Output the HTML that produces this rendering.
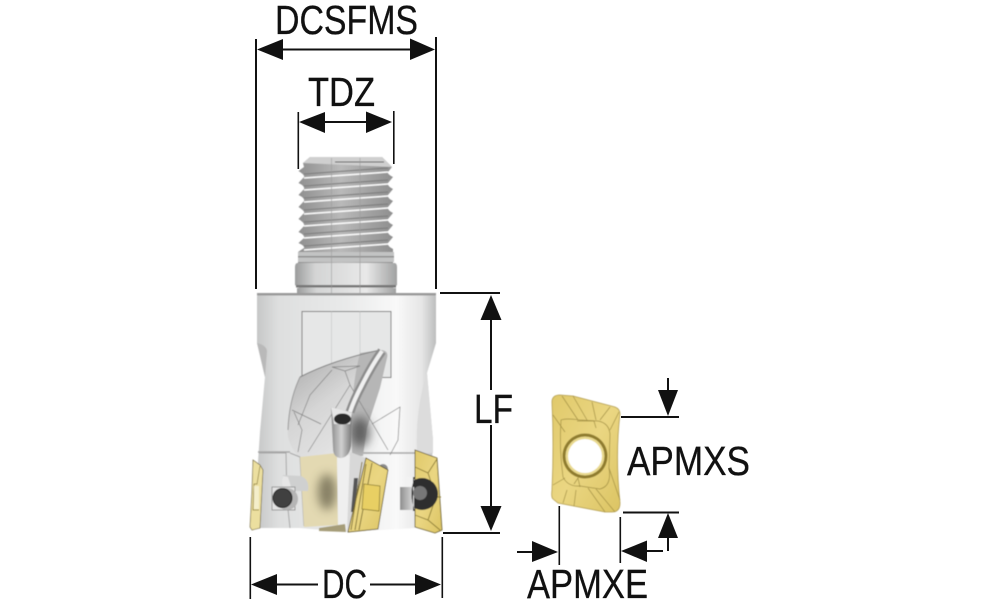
<!DOCTYPE html>
<html><head><meta charset="utf-8">
<style>html,body{margin:0;padding:0;background:#fff}svg{display:block}text{font-family:"Liberation Sans",sans-serif;font-size:41px;fill:#111;stroke:#111;stroke-width:.3}</style>
</head><body>
<svg width="1000" height="611" viewBox="0 0 1000 611" xmlns="http://www.w3.org/2000/svg">
<defs>
<filter id="soft" x="-5%" y="-5%" width="110%" height="110%"><feGaussianBlur stdDeviation=".45"/></filter>
<filter id="soft2" x="-60%" y="-60%" width="220%" height="220%"><feGaussianBlur stdDeviation="5"/></filter>
<linearGradient id="body" x1="0" x2="1" y1="0" y2="0"><stop offset="0" stop-color="#c6c7c7"/><stop offset=".12" stop-color="#dedfdf"/><stop offset=".5" stop-color="#e9eaea"/><stop offset=".78" stop-color="#f9f9f9"/><stop offset=".92" stop-color="#e6e6e6"/><stop offset="1" stop-color="#bcbdbd"/></linearGradient>
<linearGradient id="collar" x1="0" x2="1" y1="0" y2="0"><stop offset="0" stop-color="#9b9c9c"/><stop offset=".2" stop-color="#d4d5d5"/><stop offset=".7" stop-color="#e8e8e8"/><stop offset="1" stop-color="#a0a1a1"/></linearGradient>
<linearGradient id="thread" x1="0" x2="1" y1="0" y2="0"><stop offset="0" stop-color="#8f8f8f"/><stop offset=".45" stop-color="#b9b9b9"/><stop offset="1" stop-color="#8f8f8f"/></linearGradient>
<linearGradient id="flute" x1="0" x2=".7" y1="0" y2="1"><stop offset="0" stop-color="#a4a4a4"/><stop offset=".5" stop-color="#d6d6d6"/><stop offset="1" stop-color="#e8e8e8"/></linearGradient>
<linearGradient id="chan" x1="0" x2="1" y1="0" y2="0"><stop offset="0" stop-color="#8c8c8c"/><stop offset=".5" stop-color="#d0d0d0"/><stop offset="1" stop-color="#777"/></linearGradient>
<linearGradient id="gold" x1="0" x2="1" y1="0" y2="1"><stop offset="0" stop-color="#e0c96a"/><stop offset=".5" stop-color="#ead682"/><stop offset="1" stop-color="#dcc463"/></linearGradient>
<linearGradient id="cyl" x1="0" x2="1" y1="0" y2="0"><stop offset="0" stop-color="#8e8e8e"/><stop offset="1" stop-color="#dedede"/></linearGradient>
</defs>

<g filter="url(#soft)">
<!-- thread -->
<path d="M303 163 L310 157 L382 157 L392 167 L388 172 Q387 174 393 177 L388 183 Q387 186 393 189 L388 195 Q387 198 393 201 L388 207 Q387 210 393 213 L388 219 Q387 222 393 225 L388 231 Q387 234 393 237 L388 243 Q387 246 393 249 L393 263 L298 263 L298 252 L304 248 Q305 246 298.500 243 L304 238 Q305 235 298.500 232 L304 226 Q305 223 298.500 219 L304 213 Q305 211 298.500 207 L304 201 Q305 198 298.500 195 L304 189 Q305 186 298.500 183 L304 177 Q305 175 298.500 171 L304 167Z" fill="url(#thread)"/>
<path d="M310 157 L382 157 L392 167 L303 163Z" fill="#cfcfcf"/>
<path d="M335 162 L384 162" stroke="#555" stroke-width="1"/>
<g stroke="#fbfbfb" stroke-width="1.500" fill="none">
<path d="M304 178 L388 172"/><path d="M304 190 L388 184"/><path d="M304 202 L388 196"/><path d="M304 214 L388 208"/><path d="M304 226 L388 220"/><path d="M304 238 L388 232"/><path d="M304 250 L388 244"/>
</g>
<g stroke="#7c7c7c" stroke-width="1.100" fill="none">
<path d="M304 174 L388 168"/><path d="M304 186 L388 180"/><path d="M304 198 L388 192"/><path d="M304 210 L388 204"/><path d="M304 222 L388 216"/><path d="M304 234 L388 228"/><path d="M304 246 L388 240"/>
</g>
<!-- collar -->
<path d="M298 252 L394 252 L394 262 L298 262Z" fill="#c2c3c3"/>
<rect x="298" y="256" width="96" height="1.500" fill="#8f8f8f"/>
<path d="M297 263 L395 263 Q397 264 397 267 L397 285 L393 288 L299 288 L295 285 L295 267 Q295 264 297 263Z" fill="url(#collar)"/>
<rect x="296" y="285" width="100" height="2.500" fill="#777"/>
<rect x="297" y="288" width="99" height="5" fill="url(#collar)"/>
<path d="M331.500 158 V311 M360 158 V311" stroke="#9c9c9c" stroke-width=".6"/>

<!-- body -->
<path d="M257 296 L260 293 L433 293 L436 296 L436 343 L427 373 L433 440 L432 462 L433 527 Q400 529 345 532 L300 528 L260 528 L258 462 L260 432 L265 377 L257 343Z" fill="url(#body)"/>
<rect x="257" y="293" width="179" height="2.500" fill="#9a9a9a"/>
<path d="M257 343 Q266 345 267 351 L265 377Z" fill="#b9b9b9"/>
<path d="M427 373 L433 440 L433 453 L417 453 Q415 410 427 373Z" fill="#dcdcdc"/>
<rect x="302" y="311.500" width="89" height="66" fill="#e6e7e7" stroke="#7b7b7b" stroke-width="1"/>
<path d="M331.500 311 V380 M360 311 V380" stroke="#bbb" stroke-width=".5"/>
<!-- horizontal band -->
<path d="M258 452 L290 452 M362 453 L418 453" stroke="#a6a6a6" stroke-width="1.500" fill="none"/>

<!-- flute -->
<path d="M300 377 Q333 360 380 350 Q389 350 387 358 L380 388 L367 428 L363 456 L345 458 L300 458 L297 455 Q286 440 288 430 Q289 400 300 377Z" fill="url(#flute)"/>
<path d="M360 353 L380 350 Q389 350 387 358 L380 388 L367 428 L363 456 L352 456 L352 412 Q353 380 360 353Z" fill="#b6b6b6"/>
<ellipse cx="360" cy="432" rx="10" ry="15" fill="#444" opacity=".75" filter="url(#soft2)"/>
<g stroke="#808080" stroke-width=".7" fill="none">
<path d="M332 367 L360 366 L345 371 L332 367"/><path d="M345 371 L350 385 L308 452"/><path d="M332 370 L310 395 L298 425"/><path d="M292 410 L321 424"/><path d="M350 385 L388 450"/><path d="M372 424 L400 407 L398 440 L390 455"/><path d="M294 412 L302 430 L298 452"/>
</g>
<path d="M300 377 Q333 360 380 350" fill="none" stroke="#838383" stroke-width="1"/>
<path d="M288 430 Q289 400 300 377" fill="none" stroke="#999" stroke-width="1"/>
<!-- rib -->
<path d="M382 351 Q372 365 362 385 Q354 400 350 412" fill="none" stroke="#8d8d8d" stroke-width="9"/>
<path d="M382 351 Q372 365 362 385 Q354 400 350 412" fill="none" stroke="#f0f0f0" stroke-width="4"/>
<!-- lower left details -->
<path d="M259 453 L286 453 L287 500 L290 528" fill="none" stroke="#a6a6a6" stroke-width="1"/>
<path d="M290 453 L300 457 L304 526" fill="none" stroke="#a6a6a6" stroke-width="1"/>
<path d="M300 457 L337 453 L338 525 L304 527Z" fill="#e3d9b2"/>
<ellipse cx="327" cy="492" rx="9" ry="18" fill="#6d6750" opacity=".8" filter="url(#soft2)"/>
<path d="M337 453 L338 525 L347 532 L352 510 L352 456Z" fill="#efefef"/>
<!-- channel -->
<path d="M331 407 L352 413 L351 446 Q349 458 340 458 Q333 457 333 448Z" fill="url(#chan)"/>
<path d="M331 407 L352 413 L350 424 L334 424Z" fill="#e6e6e6"/>
<ellipse cx="342.500" cy="419" rx="8.500" ry="5.500" fill="#2c2c2c"/>
<path d="M319 528 L345 524 L346 532 L319 531Z" fill="#a59c78"/>
<path d="M283 475 L301 476 Q310 480 308 491 L288 491 Q281 491 283 475Z" fill="#cfd0d0"/>
<path d="M283 476 Q281 484 284 490 L292 490 L288 477Z" fill="#e6e6e6"/>
<rect x="272" y="487" width="23" height="23" fill="#e2e2e2" stroke="#888" stroke-width=".8"/>
<circle cx="287" cy="499" r="11" fill="#b5b5b5"/>
<circle cx="282.500" cy="498" r="9.500" fill="#414141" stroke="#222" stroke-width="1"/>

<!-- left insert -->
<path d="M253 460 L260 465 L263 470 L260 528 L252 530 L250 527 L252 490Z" fill="#ecdf9f" stroke="#5d5128" stroke-width=".6"/>
<path d="M260 466 L257 484 L254 484 L253 510 L259 510" fill="none" stroke="#8b7c3a" stroke-width=".7"/>
<rect x="254" y="486" width="5" height="23" fill="#f4eeca"/>

<!-- middle insert -->
<path d="M350 452 L366 458 L352 530 L347 532Z" fill="#d8d8d8"/>
<path d="M354 478 L358 478 L355 512 L351 512Z" fill="#555"/>
<circle cx="383" cy="469" r="5" fill="#8a8a8a"/>
<path d="M366 458 L388 470 L378 529 L348 532Z" fill="url(#gold)" stroke="#5d5128" stroke-width=".8"/>
<path d="M362 462 L351 530 M366 464 L355 530 M372 463 L359 530" stroke="#7b6d30" stroke-width=".9"/>
<path d="M364 484 L380 486 L379 511 L362 509Z" fill="#e8cf63" stroke="#8d7d32" stroke-width=".8"/>

<!-- right side -->
<path d="M400 487 L414 489 L414 510 L400 510Z" fill="url(#cyl)"/>
<path d="M415 450 L437 458 L442 530 L435 533 L415 527Z" fill="url(#gold)" stroke="#5d5128" stroke-width=".8"/>
<path d="M415 467 L428 473 L436 497 L428 520 L415 515 M428 473 L437 459 M428 520 L440 530 M436 497 L441 497" fill="none" stroke="#8c7c33" stroke-width=".9"/>
<circle cx="422" cy="494" r="16" fill="#2e2e2e"/>
<path d="M413 477 H406 V510 H413Z" fill="#f2f2f2"/>
<rect x="400" y="487" width="14" height="23" fill="url(#cyl)"/>
<circle cx="420" cy="493" r="7" fill="#777"/>
<path d="M415 477 Q408 494 415 511 L413 511 L413 477Z" fill="#1e1e1e"/>

<!-- carbide insert -->
<path d="M552 402 Q552 395 560 395 L573 396 L615 407 Q620 409 620 414 Q615 455 620 503 Q620 512 612 512 L605 512 L558 503 L553 499 Q551 497 552 490 Q554 445 552 402Z" fill="url(#gold)" stroke="#b29c4e" stroke-width=".8"/>
<g fill="none" stroke="#a18e41" stroke-width=".7">
<path d="M561 420 Q566 418 580 420 L598 421 Q609 423 610 434 L609 468 Q612 486 600 489 L580 486 Q568 487 563 477 Q559 448 561 420Z"/>
<path d="M553 415 L565 432 M562 396 L578 420 M573 396 L587 420 M592 402 L596 420 M610 407 L600 420"/>
<path d="M553 485 L565 478 M567 490 L563 503 M576 490 L574 506 M588 488 L605 512 M596 489 L615 512 M609 468 L620 500 M610 430 L619 412"/>
<path d="M577 421 L594 421 L596 428 M574 484 L578 478 L580 487"/>
</g>
<circle cx="585" cy="456" r="22.500" fill="#8f7b2d"/>
<circle cx="585" cy="456" r="19.500" fill="#e9d98d"/>
<circle cx="585" cy="456" r="17" fill="#fff"/>
</g>

<!-- dimensions -->
<g fill="#111" stroke="none">
<rect x="255" y="39" width="2" height="250"/><rect x="435" y="37" width="2" height="252"/>
<rect x="283" y="48.500" width="127" height="2"/>
<path d="M257 49.500 L283 39 L283 60Z"/><path d="M435 49.500 L410 38.500 L410 60Z"/>
<rect x="297.500" y="112" width="1.600" height="57"/><rect x="393" y="111" width="1.600" height="53"/>
<rect x="325" y="121" width="41" height="2"/>
<path d="M299 122 L325 112 L325 133Z"/><path d="M392 122 L366 111.500 L366 133Z"/>
<rect x="440" y="292" width="60" height="2"/><rect x="443" y="532" width="57" height="2"/>
<rect x="490" y="320" width="2" height="70"/><rect x="490" y="425" width="2" height="81"/>
<path d="M491 295 L480.500 320 L501.500 320Z"/><path d="M491 531 L480.500 506 L501.500 506Z"/>
<rect x="249.500" y="537" width="1.600" height="62"/><rect x="441.500" y="537" width="1.600" height="61"/>
<rect x="277" y="583.500" width="41" height="2"/><rect x="370" y="583.500" width="45" height="2"/>
<path d="M251 584.500 L277 574 L277 595Z"/><path d="M441 584.500 L415 574 L415 595Z"/>
<rect x="621" y="416" width="58" height="2"/>
<rect x="667" y="378" width="2" height="14"/>
<path d="M668 416 L658 390 L678 390Z"/>
<rect x="623" y="511.500" width="56" height="2"/>
<rect x="667" y="537" width="2" height="14"/>
<path d="M668 513 L658 538 L678 538Z"/>
<rect x="558.500" y="506" width="1.600" height="59"/>
<rect x="619.500" y="517" width="1.600" height="46"/>
<rect x="517" y="551" width="16" height="2"/>
<rect x="646" y="550" width="17" height="2"/>
<path d="M558 552 L532 541 L532 562Z"/><path d="M621 551 L647 540.500 L647 562Z"/>
</g>

<text x="275" y="34" textLength="143" lengthAdjust="spacingAndGlyphs">DCSFMS</text>
<text x="308" y="106" textLength="67" lengthAdjust="spacingAndGlyphs">TDZ</text>
<text x="474" y="423" textLength="39" lengthAdjust="spacingAndGlyphs">LF</text>
<text x="322" y="598" textLength="45" lengthAdjust="spacingAndGlyphs">DC</text>
<text x="627" y="475" textLength="123" lengthAdjust="spacingAndGlyphs">APMXS</text>
<text x="527" y="598" textLength="121" lengthAdjust="spacingAndGlyphs">APMXE</text>
</svg>
</body></html>
